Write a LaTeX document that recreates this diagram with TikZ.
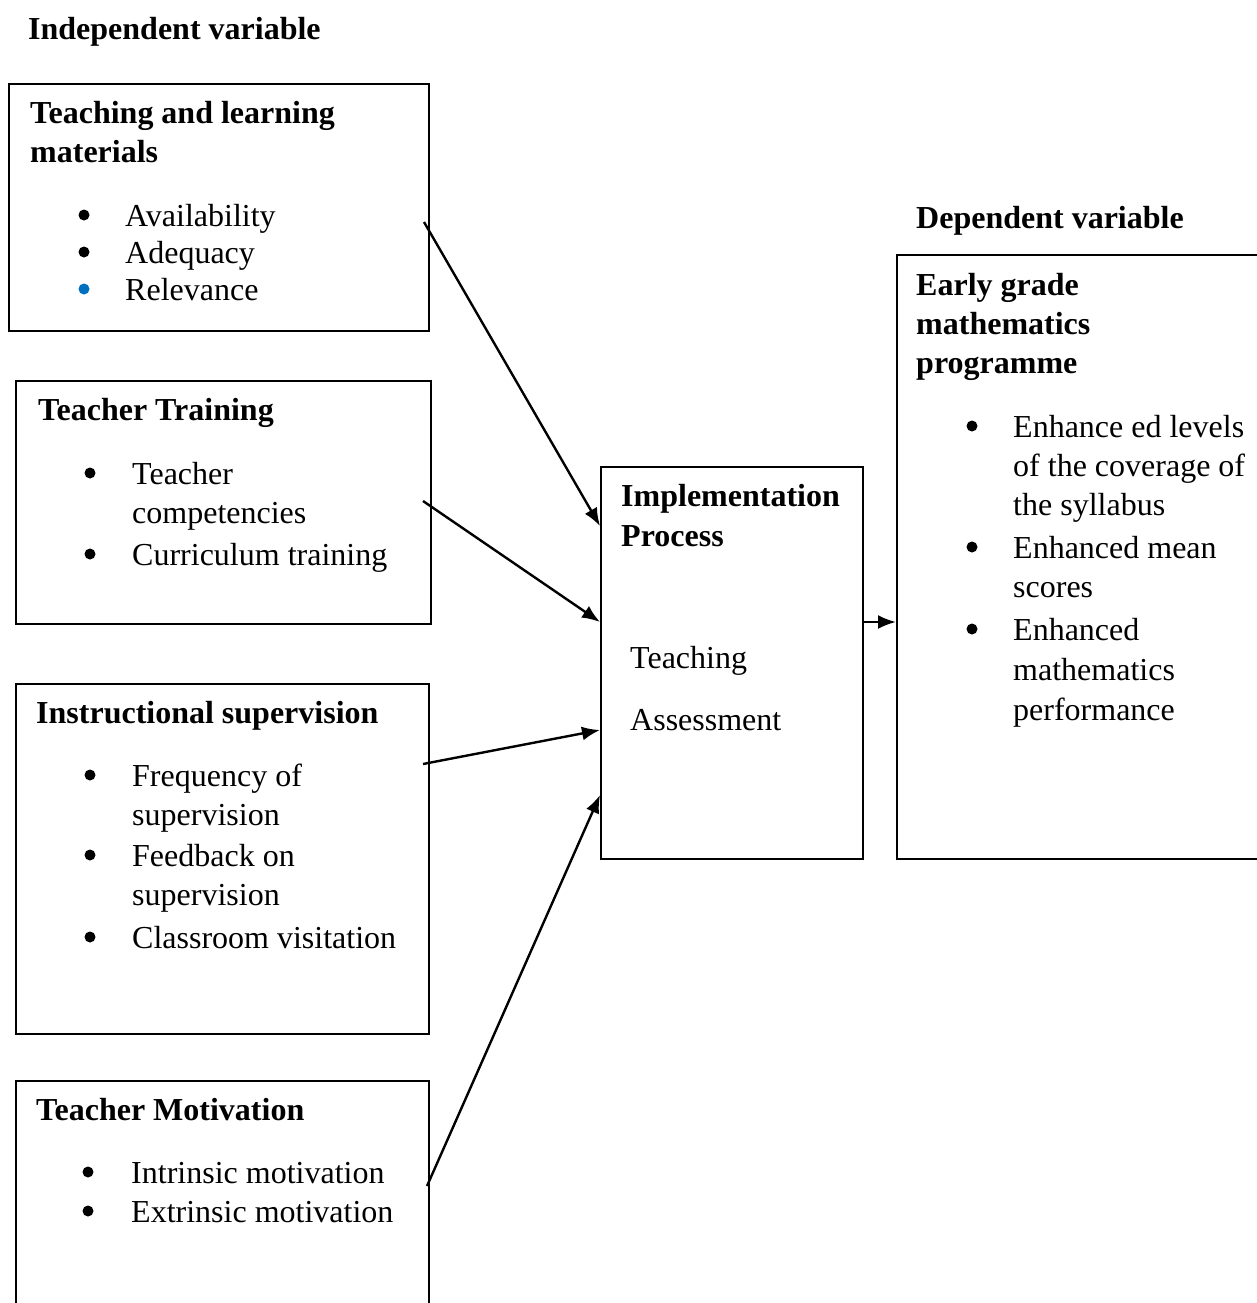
\documentclass[tikz,border=0pt]{standalone}
\usepackage{fontspec}
\setmainfont{Liberation Serif}
\usetikzlibrary{arrows.meta}
\definecolor{bulletblue}{RGB}{0,112,192}

\tikzset{
	box/.style={draw, line width=2.2pt, anchor=north west, inner sep=0pt},
	txt/.style={anchor=base west, inner sep=0pt, font=\fontsize{32}{39}\selectfont},
	head/.style={txt, font=\fontsize{32}{39}\selectfont\bfseries},
	bul/.style={circle, fill, inner sep=0pt, minimum size=11pt, yshift=11pt},
	link/.style={-{Latex[length=18pt,width=14pt]}, line width=2.4pt}
}

\begin{document}
\begin{tikzpicture}[x=1pt,y=-1pt]
	\useasboundingbox (0,0) rectangle (1257,1303);
	\clip (0,0) rectangle (1257,1303);

	% independent variables
	\node[head] (indep) at (28,40) {Independent variable};

	\node[box, minimum width=420, minimum height=247] (tlm) at (8,83) {};
		\node[head] (tlm1) at (30,124) {Teaching and learning};
		\node[head] (tlm2) at (30,162) {materials};
		\node[bul] (tlmb1) at (84,226) {};
		\node[bul] (tlmb2) at (84,263) {};
		\node[bul, fill=bulletblue] (tlmb3) at (84,300) {};
		\node[txt] (tlm3) at (125,226) {Availability};
		\node[txt] (tlm4) at (125,263) {Adequacy};
		\node[txt] (tlm5) at (125,300) {Relevance};

	\node[box, minimum width=415, minimum height=243] (train) at (15,380) {};
		\node[head] (train1) at (38,420) {Teacher Training};
		\node[bul] (trainb1) at (90,484) {};
		\node[bul] (trainb2) at (90,565) {};
		\node[txt] (train2) at (132,484) {Teacher};
		\node[txt] (train3) at (132,523) {competencies};
		\node[txt] (train4) at (132,565) {Curriculum training};

	\node[box, minimum width=413, minimum height=350] (sup) at (15,683) {};
		\node[head] (sup1) at (36,723) {Instructional supervision};
		\node[bul] (supb1) at (90,786) {};
		\node[bul] (supb2) at (90,866) {};
		\node[bul] (supb3) at (90,948) {};
		\node[txt] (sup2) at (132,786) {Frequency of};
		\node[txt] (sup3) at (132,825) {supervision};
		\node[txt] (sup4) at (132,866) {Feedback on};
		\node[txt] (sup5) at (132,905) {supervision};
		\node[txt] (sup6) at (132,948) {Classroom visitation};

	\node[box, minimum width=413, minimum height=300] (mot) at (15,1080) {};
		\node[head] (mot1) at (36,1120) {Teacher Motivation};
		\node[bul] (motb1) at (88,1183) {};
		\node[bul] (motb2) at (88,1222) {};
		\node[txt] (mot2) at (131,1183) {Intrinsic motivation};
		\node[txt] (mot3) at (131,1222) {Extrinsic motivation};

	% process
	\node[box, minimum width=262, minimum height=392] (impl) at (600,466) {};
		\node[head] (impl1) at (621,506) {Implementation};
		\node[head] (impl2) at (621,546) {Process};
		\node[txt] (impl3) at (630,668) {Teaching};
		\node[txt] (impl4) at (630,730) {Assessment};

	% dependent variable
	\node[head] (dep) at (916,228) {Dependent variable};
	\node[box, minimum width=420, minimum height=604] (egm) at (896,254) {};
		\node[head] (egm1) at (916,295) {Early grade};
		\node[head] (egm2) at (916,334) {mathematics};
		\node[head] (egm3) at (916,373) {programme};
		\node[bul] (egmb1) at (972,437) {};
		\node[bul] (egmb2) at (972,558) {};
		\node[bul] (egmb3) at (972,640) {};
		\node[txt] (egm4) at (1013,437) {Enhance ed levels};
		\node[txt] (egm5) at (1013,476) {of the coverage of};
		\node[txt] (egm6) at (1013,515) {the syllabus};
		\node[txt] (egm7) at (1013,558) {Enhanced mean};
		\node[txt] (egm8) at (1013,597) {scores};
		\node[txt] (egm9) at (1013,640) {Enhanced};
		\node[txt] (egm10) at (1013,680) {mathematics};
		\node[txt] (egm11) at (1013,720) {performance};

	% arrows
	\coordinate (tlm out) at (424,222);
	\coordinate (train out) at (423,501);
	\coordinate (sup out) at (423,764);
	\coordinate (mot out) at (427,1186);
	\coordinate (impl in1) at (600,526);
	\coordinate (impl in2) at (600,622);
	\coordinate (impl in3) at (600,730);
	\coordinate (impl in4) at (600,795);
	\coordinate (impl out) at (862,622);
	\coordinate (egm in) at (896,622);
	\draw[link] (tlm out) -- (impl in1);
	\draw[link] (train out) -- (impl in2);
	\draw[link] (sup out) -- (impl in3);
	\draw[link] (mot out) -- (impl in4);
	\draw[link] (impl out) -- (egm in);
\end{tikzpicture}
\end{document}
